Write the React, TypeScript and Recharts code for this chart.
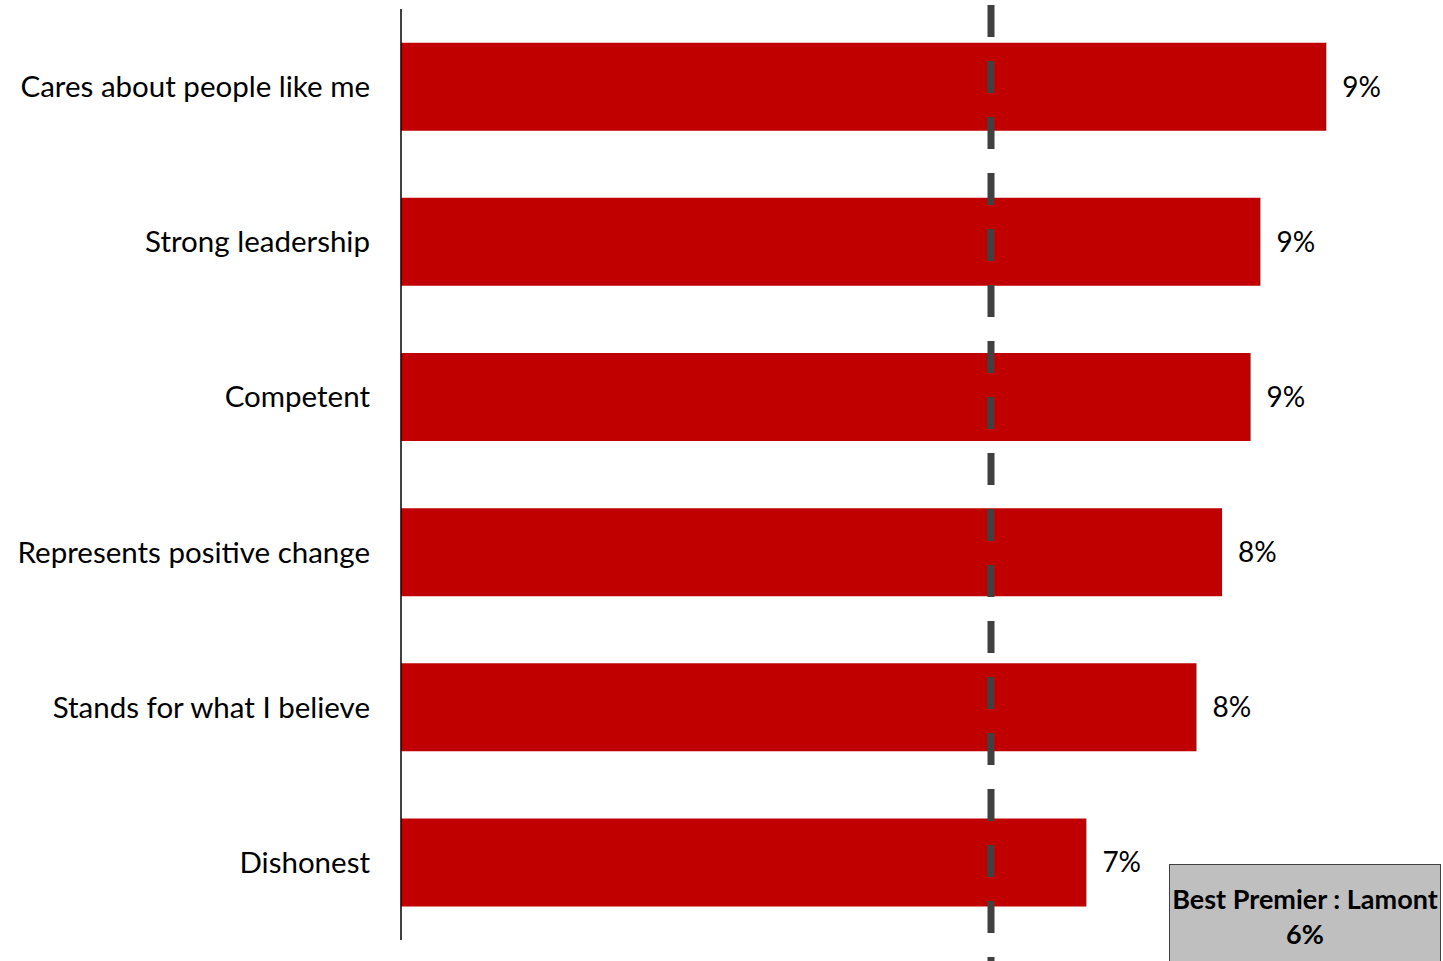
import {
  BarChart,
  Bar,
  XAxis,
  YAxis,
  ReferenceLine,
  LabelList,
} from "recharts";

const categories = [
  "Cares about people like me",
  "Strong leadership",
  "Competent",
  "Represents positive change",
  "Stands for what I believe",
  "Dishonest",
];
const shares = [9.41, 8.74, 8.64, 8.35, 8.09, 6.97];
const premierName = "Lamont";
const premierShare = 6;

const data = categories.map((name, i) => ({ name, value: shares[i] }));

const FONT = "Lato, 'Open Sans', sans-serif";

// dashed marker, stretched past the plot area like the original
function DashedMarker(props: any) {
  const { x1, x2, y1, y2 } = props;
  return (
    <line
      x1={x1}
      x2={x2}
      y1={Math.min(y1, y2) - 4}
      y2={961}
      stroke="#404040"
      strokeWidth={7}
      strokeDasharray="32 24"
    />
  );
}

export default function App() {
  return (
    <div
      style={{
        position: "absolute",
        left: 0,
        top: 0,
        width: 1443,
        height: 961,
        background: "#fff",
        overflow: "hidden",
        fontFamily: FONT,
      }}
    >
      <BarChart
        width={1443}
        height={961}
        data={data}
        layout="vertical"
        margin={{ top: 9, right: 9.5, bottom: 21, left: 0 }}
        barCategoryGap="21.7%"
      >
        <XAxis type="number" domain={[0, 10.5]} hide />
        <YAxis
          type="category"
          dataKey="name"
          width={401}
          tickLine={false}
          tickSize={0}
          tickMargin={31}
          axisLine={{ stroke: "#000", strokeWidth: 1.5 }}
          tick={{ fontSize: 29.5, fill: "#000", fontFamily: FONT }}
        />
        <Bar dataKey="value" fill="#C00000" isAnimationActive={false}>
          <LabelList
            dataKey="value"
            position="right"
            offset={16}
            formatter={(v: any) => `${Math.round(Number(v))}%`}
            style={{ fontSize: 28, fill: "#000", fontFamily: FONT }}
          />
        </Bar>
        <ReferenceLine x={premierShare} shape={DashedMarker} />
      </BarChart>
      <div
        style={{
          position: "absolute",
          left: 1169,
          top: 864,
          width: 272,
          height: 110,
          background: "#BFBFBF",
          border: "1.5px solid #404040",
          boxSizing: "border-box",
          fontWeight: 700,
          fontSize: 27,
          lineHeight: "35px",
          textAlign: "center",
          color: "#000",
          paddingTop: 16,
          whiteSpace: "nowrap",
        }}
      >
        Best Premier : {premierName}
        <br />
        {premierShare}%
      </div>
    </div>
  );
}
